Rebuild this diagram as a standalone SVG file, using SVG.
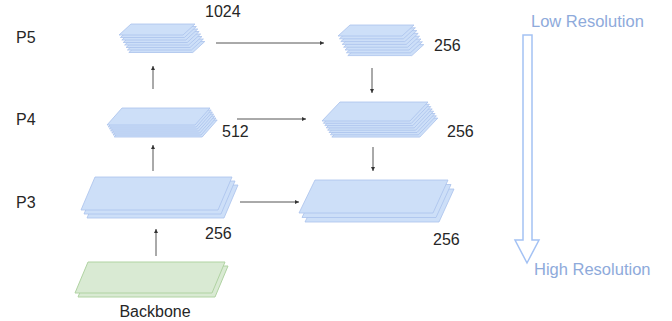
<svg xmlns="http://www.w3.org/2000/svg" xmlns:xlink="http://www.w3.org/1999/xlink" width="672" height="321" viewBox="0 0 672 321">
  <style>
    .blue { fill: #cddff8; stroke: #a9c2ec; stroke-width: 0.8; }
    .green { fill: #d9ead3; stroke: #b0d3a2; stroke-width: 1; }
    .lbl { font-family: "Liberation Sans", Arial, sans-serif; font-size: 16px; fill: #262626; }
    .res { font-family: "Liberation Sans", Arial, sans-serif; font-size: 16.5px; fill: #8eaadb; }
    .conn line { stroke: #555; stroke-width: 1; marker-end: url(#arr); }
  </style>
  <defs>
    <marker id="arr" viewBox="0 0 6 6" refX="6" refY="3" markerWidth="4" markerHeight="4" orient="auto">
      <path d="M0,0 L6,3 L0,6 z" fill="#333"/>
    </marker>
    <!-- layer shapes (parallelograms) -->
    <polygon id="p5l" points="131,24 195,24 183,35 119,35"/>
    <polygon id="p4l" points="122,108 210,108 195,125 107,125"/>
    <polygon id="p3l" points="95,177 232,177 218,210 81,210"/>
    <polygon id="p5r" points="350,25 414,25 402,36 338,36"/>
    <polygon id="p4r" points="340,102 428,102 410,121 322,121"/>
    <polygon id="p3r" points="315,180 448,180 433,213 299,213"/>
    <polygon id="bb" points="88,262 225,262 212,293 75,293"/>
  </defs>

  <rect width="672" height="321" fill="#ffffff"/>

  <!-- level labels -->
  <text class="lbl" x="16" y="43">P5</text>
  <text class="lbl" x="16" y="125">P4</text>
  <text class="lbl" x="16" y="208">P3</text>

  <!-- connectors -->
  <g id="connectors" class="conn">
    <line x1="156" y1="256" x2="156" y2="229"/>
    <line x1="153" y1="171" x2="153" y2="145"/>
    <line x1="153" y1="89" x2="153" y2="66"/>
    <line x1="216" y1="43" x2="324" y2="43"/>
    <line x1="237" y1="119" x2="306" y2="119"/>
    <line x1="240" y1="202" x2="299" y2="202"/>
    <line x1="372" y1="68" x2="372" y2="93"/>
    <line x1="373" y1="147" x2="373" y2="171"/>
  </g>

  <g id="backbone">
    <use xlink:href="#bb" class="green" transform="translate(3,4)"/>
    <use xlink:href="#bb" class="green"/>
    <text class="lbl" x="155" y="317" text-anchor="middle">Backbone</text>
  </g>

  <g id="p3-left">
    <use xlink:href="#p3l" class="blue" transform="translate(6,8)"/>
    <use xlink:href="#p3l" class="blue" transform="translate(3,4)"/>
    <use xlink:href="#p3l" class="blue"/>
    <text class="lbl" x="205" y="239">256</text>
  </g>

  <g id="p4-left">
    <use xlink:href="#p4l" class="blue" transform="translate(7.2,12)"/>
    <use xlink:href="#p4l" class="blue" transform="translate(6,10)"/>
    <use xlink:href="#p4l" class="blue" transform="translate(4.8,8)"/>
    <use xlink:href="#p4l" class="blue" transform="translate(3.6,6)"/>
    <use xlink:href="#p4l" class="blue" transform="translate(2.4,4)"/>
    <use xlink:href="#p4l" class="blue" transform="translate(1.2,2)"/>
    <use xlink:href="#p4l" class="blue"/>
    <text class="lbl" x="222" y="137">512</text>
  </g>

  <g id="p5-left">
    <use xlink:href="#p5l" class="blue" transform="translate(9.8,17.5)"/>
    <use xlink:href="#p5l" class="blue" transform="translate(8.4,15)"/>
    <use xlink:href="#p5l" class="blue" transform="translate(7,12.5)"/>
    <use xlink:href="#p5l" class="blue" transform="translate(5.6,10)"/>
    <use xlink:href="#p5l" class="blue" transform="translate(4.2,7.5)"/>
    <use xlink:href="#p5l" class="blue" transform="translate(2.8,5)"/>
    <use xlink:href="#p5l" class="blue" transform="translate(1.4,2.5)"/>
    <use xlink:href="#p5l" class="blue"/>
    <text class="lbl" x="205" y="17">1024</text>
  </g>

  <g id="p5-right">
    <use xlink:href="#p5r" class="blue" transform="translate(9.8,19.6)"/>
    <use xlink:href="#p5r" class="blue" transform="translate(8.4,16.8)"/>
    <use xlink:href="#p5r" class="blue" transform="translate(7,14)"/>
    <use xlink:href="#p5r" class="blue" transform="translate(5.6,11.2)"/>
    <use xlink:href="#p5r" class="blue" transform="translate(4.2,8.4)"/>
    <use xlink:href="#p5r" class="blue" transform="translate(2.8,5.6)"/>
    <use xlink:href="#p5r" class="blue" transform="translate(1.4,2.8)"/>
    <use xlink:href="#p5r" class="blue"/>
    <text class="lbl" x="434" y="51">256</text>
  </g>

  <g id="p4-right">
    <use xlink:href="#p4r" class="blue" transform="translate(9.8,16.1)"/>
    <use xlink:href="#p4r" class="blue" transform="translate(8.4,13.8)"/>
    <use xlink:href="#p4r" class="blue" transform="translate(7,11.5)"/>
    <use xlink:href="#p4r" class="blue" transform="translate(5.6,9.2)"/>
    <use xlink:href="#p4r" class="blue" transform="translate(4.2,6.9)"/>
    <use xlink:href="#p4r" class="blue" transform="translate(2.8,4.6)"/>
    <use xlink:href="#p4r" class="blue" transform="translate(1.4,2.3)"/>
    <use xlink:href="#p4r" class="blue"/>
    <text class="lbl" x="447" y="137">256</text>
  </g>

  <g id="p3-right">
    <use xlink:href="#p3r" class="blue" transform="translate(6,9)"/>
    <use xlink:href="#p3r" class="blue" transform="translate(3,4.5)"/>
    <use xlink:href="#p3r" class="blue"/>
    <text class="lbl" x="433" y="245">256</text>
  </g>

  <!-- resolution direction indicator -->
  <g id="resolution">
    <text class="res" x="531" y="27">Low Resolution</text>
    <path d="M523,35 H532 V240 H539 L527,263 L515,240 H523 Z" fill="none" stroke="#a4c2f4" stroke-width="1.5" stroke-linejoin="miter"/>
    <text class="res" x="534" y="275">High Resolution</text>
  </g>
</svg>
